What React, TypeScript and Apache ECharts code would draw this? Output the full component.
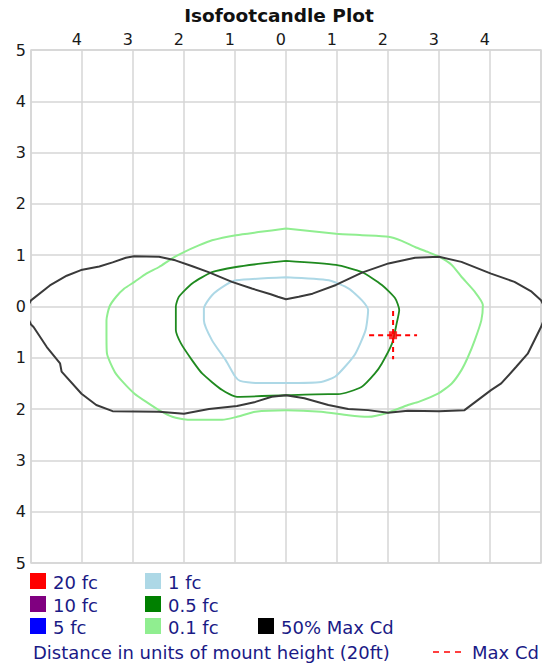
import React, { useEffect, useRef } from "react";
import * as echarts from "echarts";

// ---- Data (units of mount height) ----
const xTicks = [-5, -4, -3, -2, -1, 0, 1, 2, 3, 4, 5];
const yTicks = [-5, -4, -3, -2, -1, 0, 1, 2, 3, 4, 5];

// 50% Max Cd contour (extends past the plot edges; clipped)
const blackContour: [number, number][] = [
  [-5.12, -0.1], [-5.0, 0.12], [-4.63, 0.41], [-4.3, 0.6], [-4.02, 0.71], [-3.66, 0.78],
  [-3.4, 0.86], [-3.14, 0.95], [-2.98, 0.98], [-2.49, 0.97], [-2.17, 0.9], [-1.85, 0.79],
  [-1.52, 0.67], [-1.06, 0.48], [-0.67, 0.35], [-0.3, 0.24], [-0.16, 0.19], [0.0, 0.14],
  [0.25, 0.19], [0.52, 0.25], [0.98, 0.42], [1.49, 0.66], [2.01, 0.84], [2.53, 0.95],
  [3.0, 0.97], [3.44, 0.87], [4.02, 0.64], [4.48, 0.48], [4.8, 0.3], [5.0, 0.12],
  [5.12, -0.1], [5.0, -0.4], [4.74, -0.92], [4.51, -1.18], [4.22, -1.5], [4.02, -1.63],
  [3.5, -2.02], [3.0, -2.04], [2.39, -2.03], [2.0, -2.07], [1.61, -2.02], [1.22, -2.0],
  [0.83, -1.92], [0.36, -1.79], [0.0, -1.73], [-0.28, -1.76], [-0.6, -1.86], [-0.96, -1.94],
  [-1.51, -2.0], [-1.9, -2.07], [-2.0, -2.09], [-2.49, -2.05], [-3.4, -2.04], [-3.72, -1.92],
  [-4.01, -1.7], [-4.4, -1.27], [-4.43, -1.11], [-4.69, -0.79], [-4.95, -0.4], [-5.0, -0.35],
  [-5.12, -0.1],
];

// 0.1 fc contour
const lightGreenContour: [number, number][] = [
  [0.0, 1.52], [0.98, 1.42], [1.49, 1.39], [2.01, 1.36], [2.27, 1.28], [2.53, 1.16],
  [2.79, 1.06], [3.0, 0.97], [3.25, 0.81], [3.44, 0.58], [3.7, 0.29], [3.86, 0.03],
  [3.83, -0.27], [3.7, -0.66], [3.57, -0.98], [3.44, -1.24], [3.25, -1.5], [2.98, -1.7],
  [2.6, -1.86], [2.39, -1.92], [2.0, -2.07], [1.61, -2.15], [1.22, -2.12], [0.69, -2.05],
  [0.0, -2.02], [-0.6, -2.05], [-0.96, -2.15], [-1.25, -2.21], [-1.9, -2.21], [-2.23, -2.15],
  [-2.49, -2.02], [-2.74, -1.86], [-2.97, -1.7], [-3.2, -1.47], [-3.36, -1.27], [-3.51, -0.92],
  [-3.52, -0.59], [-3.52, -0.27], [-3.46, 0.0], [-3.33, 0.19], [-3.17, 0.35], [-2.97, 0.48],
  [-2.74, 0.64], [-2.49, 0.77], [-2.23, 0.94], [-2.0, 1.06], [-1.71, 1.19], [-1.45, 1.29],
  [-0.98, 1.39], [-0.54, 1.45], [0.0, 1.52],
];

// 0.5 fc contour
const darkGreenContour: [number, number][] = [
  [0.0, 0.89], [0.98, 0.81], [1.49, 0.67], [1.88, 0.42], [2.14, 0.16], [2.22, -0.07],
  [2.17, -0.33], [2.08, -0.72], [1.88, -1.11], [1.74, -1.31], [1.48, -1.57], [1.02, -1.71],
  [0.83, -1.71], [0.0, -1.73], [-0.96, -1.76], [-1.25, -1.63], [-1.64, -1.31], [-1.84, -1.05],
  [-2.06, -0.72], [-2.16, -0.46], [-2.16, 0.0], [-2.1, 0.19], [-1.84, 0.45], [-1.45, 0.67],
  [-0.98, 0.77], [-0.46, 0.84], [0.0, 0.89],
];

// 1 fc contour
const lightBlueContour: [number, number][] = [
  [0.0, 0.57], [0.84, 0.51], [1.23, 0.35], [1.49, 0.12], [1.61, -0.07], [1.56, -0.46],
  [1.36, -0.92], [1.16, -1.17], [0.96, -1.37], [0.69, -1.47], [0.0, -1.49], [-0.6, -1.49],
  [-0.9, -1.45], [-1.0, -1.36], [-1.18, -1.05], [-1.45, -0.66], [-1.61, -0.27], [-1.61, -0.04],
  [-1.45, 0.22], [-1.18, 0.42], [-0.98, 0.51], [0.0, 0.57],
];

// Max candela point and its marker cross half-length
const maxCdPoint: [number, number] = [2.1, -0.56];
const maxCdCrossHalf = 0.47;

// Legend entries
const legendRows = [
  [
    { label: "20 fc", color: "#ff0000" },
    { label: "1 fc", color: "#add8e6" },
  ],
  [
    { label: "10 fc", color: "#800080" },
    { label: "0.5 fc", color: "#008000" },
  ],
  [
    { label: "5 fc", color: "#0000ff" },
    { label: "0.1 fc", color: "#90ee90" },
    { label: "50% Max Cd", color: "#000000" },
  ],
];
const titleText = "Isofootcandle Plot";
const footerText = "Distance in units of mount height (20ft)";
const maxCdLabel = "Max Cd";

const FONT = "DejaVu Sans";
const LEGEND_TEXT = "#1a1a86";

export default function App() {
  const ref = useRef<HTMLDivElement>(null);

  useEffect(() => {
    if (!ref.current) return;
    const chart = echarts.init(ref.current, null, { renderer: "svg" });

    const lineSeries = (
      name: string,
      data: [number, number][],
      color: string,
      width: number,
      smooth: number
    ) => ({
      name,
      type: "line",
      data,
      showSymbol: false,
      symbol: "none",
      smooth,
      clip: true,
      lineStyle: { color, width },
      z: 3,
    });

    const colX = [30, 145, 258];
    const rowY = [581, 604, 626];
    const legendGraphics: any[] = [];
    legendRows.forEach((row, r) => {
      row.forEach((item, c) => {
        legendGraphics.push({
          type: "rect",
          shape: { x: colX[c], y: rowY[r] - 8, width: 16, height: 16 },
          style: { fill: item.color },
        });
        legendGraphics.push({
          type: "text",
          x: colX[c] + 23,
          y: rowY[r] + 1,
          style: {
            text: item.label,
            fill: LEGEND_TEXT,
            font: `18px '${FONT}'`,
            textVerticalAlign: "middle",
            textAlign: "left",
          },
        });
      });
    });

    chart.setOption({
      animation: false,
      backgroundColor: "#ffffff",
      grid: {
        left: 31,
        top: 50,
        width: 514,
        height: 513,
        show: true,
        borderColor: "#d6d6d6",
        borderWidth: 1.5,
        backgroundColor: "#ffffff",
      },
      xAxis: {
        type: "value",
        position: "top",
        min: xTicks[0],
        max: xTicks[xTicks.length - 1],
        interval: 1,
        axisLine: { show: false },
        axisTick: { show: false },
        splitLine: { show: true, lineStyle: { color: "#d6d6d6", width: 1.5 } },
        axisLabel: {
          show: true,
          margin: 3,
          align: "right",
          color: "#1a1a1a",
          fontFamily: FONT,
          fontSize: 16,
          formatter: (v: number) => (Math.abs(v) >= 5 ? "" : String(Math.abs(v))),
        },
      },
      yAxis: {
        type: "value",
        min: yTicks[0],
        max: yTicks[yTicks.length - 1],
        interval: 1,
        axisLine: { show: false },
        axisTick: { show: false },
        splitLine: { show: true, lineStyle: { color: "#d6d6d6", width: 1.5 } },
        axisLabel: {
          show: true,
          margin: 5,
          color: "#1a1a1a",
          fontFamily: FONT,
          fontSize: 16,
          formatter: (v: number) => String(Math.abs(v)),
        },
      },
      series: [
        lineSeries("0.1 fc", lightGreenContour, "#90ee90", 2, 0.2),
        lineSeries("0.5 fc", darkGreenContour, "#1f8a1f", 1.8, 0.2),
        lineSeries("1 fc", lightBlueContour, "#add8e6", 2, 0.2),
        lineSeries("50% Max Cd", blackContour, "#3a3a3a", 2, 0),
        {
          name: "Max Cd H",
          type: "line",
          data: [
            [maxCdPoint[0] - maxCdCrossHalf, maxCdPoint[1]],
            [maxCdPoint[0] + maxCdCrossHalf, maxCdPoint[1]],
          ],
          showSymbol: false,
          symbol: "none",
          lineStyle: { color: "#ff0000", width: 2, type: [5, 4] },
          z: 4,
        },
        {
          name: "Max Cd V",
          type: "line",
          data: [
            [maxCdPoint[0], maxCdPoint[1] + maxCdCrossHalf],
            [maxCdPoint[0], maxCdPoint[1] - maxCdCrossHalf],
          ],
          showSymbol: false,
          symbol: "none",
          lineStyle: { color: "#ff0000", width: 2, type: [5, 4] },
          z: 4,
        },
        {
          name: "Max Cd",
          type: "scatter",
          data: [maxCdPoint],
          symbol: "rect",
          symbolSize: 8,
          itemStyle: { color: "#ff0000" },
          z: 5,
        },
      ],
      graphic: [
        {
          type: "text",
          x: 279,
          y: 15,
          style: {
            text: titleText,
            fill: "#111111",
            font: `bold 18.5px '${FONT}'`,
            textAlign: "center",
            textVerticalAlign: "middle",
          },
        },
        ...legendGraphics,
        {
          type: "text",
          x: 33,
          y: 652,
          style: {
            text: footerText,
            fill: LEGEND_TEXT,
            font: `18px '${FONT}'`,
            textAlign: "left",
            textVerticalAlign: "middle",
          },
        },
        {
          type: "line",
          shape: { x1: 433, y1: 652, x2: 462, y2: 652 },
          style: { stroke: "#ff0000", lineWidth: 1.5, lineDash: [6, 5] },
        },
        {
          type: "text",
          x: 472,
          y: 652,
          style: {
            text: maxCdLabel,
            fill: LEGEND_TEXT,
            font: `18px '${FONT}'`,
            textAlign: "left",
            textVerticalAlign: "middle",
          },
        },
      ],
    });

    return () => {
      chart.dispose();
    };
  }, []);

  return (
    <div
      ref={ref}
      style={{ position: "fixed", left: 0, top: 0, width: 544, height: 665, background: "#fff" }}
    />
  );
}
